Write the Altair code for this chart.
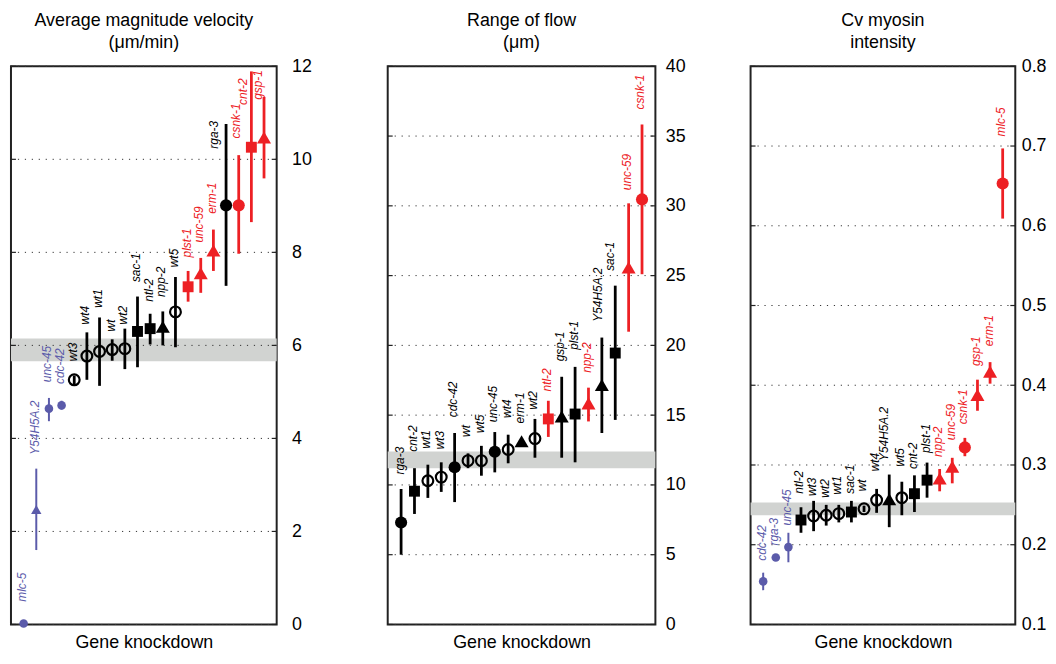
import altair as alt
import pandas as pd

FONT = "Liberation Sans"
BLUE, BLACK, RED = "#5B5BAA", "#000000", "#ED2024"

# marker shape of each knockdown (wt* controls are open circles)
SHAPE_OF = {
    "mlc-5": "circle", "rga-3": "circle", "cdc-42": "circle", "unc-45": "circle", "csnk-1": "circle",
    "cnt-2": "square", "sac-1": "square", "ntl-2": "square", "plst-1": "square",
    "npp-2": "triangle-up", "erm-1": "triangle-up", "unc-59": "triangle-up",
    "gsp-1": "triangle-up", "Y54H5A.2": "triangle-up",
}

# ---------------- Panel 1: average magnitude velocity ----------------
vel_genes = ["mlc-5", "Y54H5A.2", "unc-45", "cdc-42", "wt3", "wt4", "wt1", "wt", "wt2", "sac-1",
             "ntl-2", "npp-2", "wt5", "plst-1", "unc-59", "erm-1", "rga-3", "csnk-1", "cnt-2", "gsp-1"]
vel_mean = [0.02, 2.47, 4.64, 4.71, 5.26, 5.77, 5.87, 5.91, 5.93, 6.30,
            6.36, 6.40, 6.72, 7.26, 7.55, 8.04, 9.01, 9.01, 10.26, 10.47]
vel_lo = [0.02, 1.60, 4.37, 4.62, 5.17, 5.26, 5.13, 5.67, 5.49, 5.53,
          6.02, 6.00, 5.96, 6.94, 7.13, 7.60, 7.28, 7.97, 8.65, 9.59]
vel_hi = [0.02, 3.35, 4.87, 4.81, 5.35, 6.28, 6.60, 6.13, 6.36, 7.05,
          6.68, 6.73, 7.47, 7.60, 7.88, 8.49, 10.76, 10.09, 11.89, 11.34]
vel_group = ["low", "low", "low", "low", "mid", "mid", "mid", "mid", "mid", "mid",
             "mid", "mid", "mid", "high", "high", "high", "mid", "high", "high", "high"]
vel_label_at = [0.49, 3.65, 5.21, 5.17, 5.66, 6.45, 6.81, 6.30, 6.45, 7.36,
                6.94, 7.04, 7.68, 7.89, 8.21, 8.83, 10.23, 10.45, 11.17, 11.28]
vel_label_shift = [0, 0, 0, 0, 0, 0, 0, 0, 0, 0, 0, 0, 0, 0, 0, 0, -0.8, -0.1, -0.55, -0.35]
vel_band = [5.66, 6.15]
vel_ticks = [0, 2, 4, 6, 8, 10, 12]

# ---------------- Panel 2: range of flow ----------------
flow_genes = ["rga-3", "cnt-2", "wt1", "wt3", "cdc-42", "wt", "wt5", "unc-45", "wt4", "erm-1",
              "wt2", "ntl-2", "gsp-1", "plst-1", "npp-2", "Y54H5A.2", "sac-1", "unc-59", "csnk-1"]
flow_mean = [7.31, 9.55, 10.30, 10.56, 11.27, 11.74, 11.74, 12.38, 12.54, 13.13,
             13.32, 14.73, 14.90, 15.08, 15.84, 17.16, 19.45, 25.58, 30.46]
flow_lo = [5.00, 7.92, 9.07, 9.50, 8.77, 11.20, 10.66, 10.90, 11.55, 12.95,
           11.95, 13.44, 11.95, 11.62, 14.55, 13.72, 14.66, 20.98, 25.10]
flow_hi = [9.71, 11.20, 11.45, 11.62, 13.72, 12.26, 12.80, 13.79, 13.60, 13.35,
           14.73, 16.03, 17.75, 18.46, 16.97, 20.56, 24.28, 30.18, 35.83]
flow_group = ["mid", "mid", "mid", "mid", "mid", "mid", "mid", "mid", "mid", "mid",
              "mid", "high", "mid", "mid", "high", "mid", "mid", "high", "high"]
flow_label_at = [10.75, 12.38, 12.61, 12.55, 14.85, 13.44, 13.72, 14.5, 14.8, 14.4,
                 15.4, 16.7, 18.86, 19.68, 18.03, 21.7, 25.34, 31.12, 36.9]
flow_label_shift = [0, 0, 0, 0, 0, 0, 0, 0, 0, 0, 0, 0, 0, 0, 0, -0.2, -0.3, 0, 0]
flow_band = [11.2, 12.4]
flow_ticks = [0, 5, 10, 15, 20, 25, 30, 35, 40]

# ---------------- Panel 3: Cv myosin intensity ----------------
myo_genes = ["cdc-42", "rga-3", "unc-45", "ntl-2", "wt3", "wt2", "wt1", "sac-1", "wt", "wt4",
             "Y54H5A.2", "wt5", "cnt-2", "plst-1", "npp-2", "unc-59", "csnk-1", "gsp-1", "erm-1", "mlc-5"]
myo_mean = [0.154, 0.184, 0.197, 0.231, 0.236, 0.237, 0.239, 0.241, 0.245, 0.256,
            0.257, 0.259, 0.264, 0.281, 0.283, 0.298, 0.322, 0.388, 0.417, 0.653]
myo_lo = [0.143, 0.181, 0.178, 0.215, 0.217, 0.224, 0.228, 0.228, 0.241, 0.240,
          0.222, 0.237, 0.241, 0.259, 0.267, 0.277, 0.311, 0.368, 0.402, 0.609]
myo_hi = [0.165, 0.187, 0.215, 0.247, 0.255, 0.250, 0.250, 0.255, 0.249, 0.270,
          0.288, 0.279, 0.287, 0.303, 0.295, 0.309, 0.334, 0.407, 0.429, 0.697]
myo_group = ["low", "low", "low", "mid", "mid", "mid", "mid", "mid", "mid", "mid",
             "mid", "mid", "mid", "mid", "high", "high", "high", "high", "high", "high"]
myo_label_at = [0.180, 0.199, 0.224, 0.264, 0.261, 0.259, 0.263, 0.264, 0.267, 0.292,
                0.305, 0.298, 0.295, 0.315, 0.310, 0.331, 0.351, 0.424, 0.449, 0.712]
myo_label_shift = [0, 0, 0, 0, 0, 0, 0, 0, 0, 0, -0.3, 0, 0, 0, 0, 0, 0, 0, 0, 0]
myo_band = [0.237, 0.253]
myo_ticks = [0.1, 0.2, 0.3, 0.4, 0.5, 0.6, 0.7, 0.8]

COLOR = alt.Color("grp:N", scale=alt.Scale(domain=["low", "mid", "high"], range=[BLUE, BLACK, RED]),
                  legend=None)
H = 563


def panel(genes, mean, lo, hi, grp, lab_at, lab_shift, xmax, ydom, yticks, band, title,
          W, lab_pad, min_ext, fmt):
    df = pd.DataFrame({
        "gene": genes,
        "pos": list(range(1, len(genes) + 1)),
        "mean": mean, "lo": lo, "hi": hi, "grp": grp,
        "lab": lab_at,
        "labpos": [i + 1 + s for i, s in enumerate(lab_shift)],
        "shape": [SHAPE_OF.get(g, "open") for g in genes],
    })
    xscale = alt.Scale(domain=[0, xmax], nice=False, zero=False)
    xaxis = alt.Axis(title="Gene knockdown", labels=False, ticks=False, domain=False, grid=False,
                     titleFont=FONT, titleFontSize=18, titleFontWeight="normal",
                     titleColor="black", titlePadding=9)
    yscale = alt.Scale(domain=ydom, nice=False, zero=False)
    yaxis = alt.Axis(orient="right", values=yticks, format=fmt, labelFont=FONT, labelFontSize=18,
                     labelColor="black", labelPadding=lab_pad, ticks=False, domain=False,
                     grid=False, title=None, minExtent=min_ext, labelOverlap=False)

    def X(f):
        return alt.X(f, type="quantitative", scale=xscale, axis=xaxis)

    def Y(f):
        return alt.Y(f, type="quantitative", scale=yscale, axis=yaxis)

    base = alt.Chart(df)
    band_df = pd.DataFrame({"b0": [band[0]], "b1": [band[1]]})
    band_l = alt.Chart(band_df).mark_rect(color="#D1D3D1").encode(
        y=Y("b0"), y2="b1", x=alt.value(0), x2=alt.value(W))
    grid_df = pd.DataFrame({"v": yticks})
    grid_l = alt.Chart(grid_df).mark_rule(color="#333333", strokeWidth=1, strokeDash=[1.2, 5.8]).encode(
        y=Y("v"), x=alt.value(0), x2=alt.value(W))
    tick_left = alt.Chart(grid_df).mark_rule(color="#222222", strokeWidth=1.2).encode(
        y=Y("v"), x=alt.value(0), x2=alt.value(5))
    tick_right = alt.Chart(grid_df).mark_rule(color="#222222", strokeWidth=1.2).encode(
        y=Y("v"), x=alt.value(W - 5), x2=alt.value(W))

    err = base.mark_rule().encode(
        x=X("pos"), y=Y("lo"), y2="hi", color=COLOR,
        strokeWidth=alt.condition("datum.grp == 'low'", alt.value(2), alt.value(2.8)))

    layers = [band_l, grid_l, tick_left, tick_right, err]
    sizes = {"circle": (150, 75), "square": (121, 64), "triangle-up": (200, 110)}
    for kind, (big, small) in sizes.items():
        layers.append(base.transform_filter(
            f"datum.shape == '{kind}' && datum.grp != 'low'").mark_point(
            filled=True, opacity=1, shape=kind, size=big).encode(x=X("pos"), y=Y("mean"), color=COLOR))
        layers.append(base.transform_filter(
            f"datum.shape == '{kind}' && datum.grp == 'low'").mark_point(
            filled=True, opacity=1, shape=kind, size=small).encode(x=X("pos"), y=Y("mean"), color=COLOR))
    layers.append(base.transform_filter("datum.shape == 'open'").mark_point(
        shape="circle", filled=False, size=118, strokeWidth=2.2, color="black", opacity=1).encode(
        x=X("pos"), y=Y("mean")))
    layers.append(base.mark_text(angle=270, align="left", baseline="middle", font=FONT, fontSize=12,
                                 fontStyle="italic", dy=-1.5).encode(
        x=X("labpos"), y=Y("lab"), text="gene:N", color=COLOR))

    return alt.layer(*layers).properties(
        width=W, height=H,
        title=alt.TitleParams(text=title, font=FONT, fontSize=18, fontWeight="normal", color="black",
                              anchor="middle", frame="group", offset=5, lineHeight=23))


p1 = panel(vel_genes, vel_mean, vel_lo, vel_hi, vel_group, vel_label_at, vel_label_shift, 21,
           [0, 12], vel_ticks, vel_band, ["Average magnitude velocity", "(μm/min)"], 268, 15, 89, "d")
p2 = panel(flow_genes, flow_mean, flow_lo, flow_hi, flow_group, flow_label_at, flow_label_shift, 20,
           [0, 40], flow_ticks, flow_band, ["Range of flow", "(μm)"], 270, 10, 73, "d")
p3 = panel(myo_genes, myo_mean, myo_lo, myo_hi, myo_group, myo_label_at, myo_label_shift, 21,
           [0.1, 0.8], myo_ticks, myo_band, ["Cv myosin", "intensity"], 267, 6, 0, ".1f")

chart = alt.hconcat(p1, p2, p3, spacing=20).configure_view(
    stroke="#222222", strokeWidth=2).properties(
    padding={"left": 1, "top": 0, "right": 0, "bottom": 0})

chart.save("out.html", embed_options={"renderer": "svg", "actions": False})
